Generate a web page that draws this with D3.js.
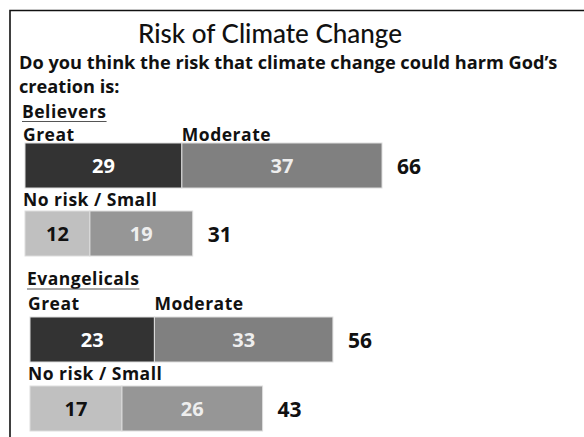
<!DOCTYPE html>
<html><head><meta charset="utf-8">
<script src="https://cdn.jsdelivr.net/npm/d3@7"></script>
<style>
body{margin:0;background:#fff;}
text{font-family:"Open Sans",Lato,sans-serif;}
</style></head>
<body><svg id="c" width="584" height="437"></svg>
<script>
const groups = ["Believers", "Evangelicals"];
const topLabels = ["Great", "Moderate"];
const bottomLabel = "No risk / Small";
const great = [29, 23];
const moderate = [37, 33];
const noRisk = [12, 17];
const small = [19, 26];
const topTotals = [66, 56];
const bottomTotals = [31, 43];

const svg = d3.select("#c");
// frame
svg.append("path").attr("d","M10,437 V10.5 H584").attr("fill","none").attr("stroke","#111").attr("stroke-width",1.6);

svg.append("text").attr("x",270).attr("y",43).attr("text-anchor","middle")
  .style("font-family","Lato, sans-serif")
  .attr("font-size",26).attr("font-weight",500).attr("fill","#111").text("Risk of Climate Change");
svg.append("text").attr("x",19).attr("y",68.5).attr("font-size",18.2).attr("font-weight",700).attr("fill","#111")
  .text("Do you think the risk that climate change could harm God\u2019s");
svg.append("text").attr("x",19).attr("y",93).attr("font-size",18.2).attr("font-weight",700).attr("fill","#111")
  .text("creation is:");

const x = d3.scaleLinear().domain([0, 66]).range([0, 357]);
const layout = [
  {x0:25, head:117.5, topLab:141, bar1:143, botLab:206, bar2:211},
  {x0:30, head:285, topLab:309.5, bar1:317, botLab:380, bar2:386}
];
const barH = 45;
const lab = 17.5, ls = 0.5;
const colGreat="#333333", colMod="#808080", colNo="#c0c0c0", colSmall="#969696";

groups.forEach((g,i)=>{
  const L = layout[i];
  const gg = svg.append("g").attr("transform",`translate(${L.x0},0)`);
  const ht = gg.append("text").attr("x",-3).attr("y",L.head).attr("font-size",lab).attr("letter-spacing",ls).attr("font-weight",700).attr("fill","#111").text(g);
  const w = ht.node().getComputedTextLength();
  gg.append("line").attr("x1",-3).attr("x2",-3+w).attr("y1",L.head+4).attr("y2",L.head+4).attr("stroke","#555").attr("stroke-width",1.2);
  // top row
  gg.append("text").attr("x",-2).attr("y",L.topLab).attr("font-size",lab).attr("letter-spacing",ls).attr("font-weight",700).attr("fill","#111").text(topLabels[0]);
  gg.append("text").attr("x",x(great[i])).attr("y",L.topLab).attr("font-size",lab).attr("letter-spacing",ls).attr("font-weight",700).attr("fill","#111").text(topLabels[1]);
  const seg1 = [{v0:0,v1:great[i],c:colGreat,t:great[i],tc:"#fff"},{v0:great[i],v1:great[i]+moderate[i],c:colMod,t:moderate[i],tc:"#eee"}];
  const seg2 = [{v0:0,v1:noRisk[i],c:colNo,t:noRisk[i],tc:"#111"},{v0:noRisk[i],v1:noRisk[i]+small[i],c:colSmall,t:small[i],tc:"#eee"}];
  [[seg1,L.bar1,topTotals[i]],[seg2,L.bar2,bottomTotals[i]]].forEach(([segs,y,tot])=>{
    gg.selectAll(null).data(segs).enter().append("rect")
      .attr("x",d=>x(d.v0)).attr("y",y).attr("width",d=>x(d.v1)-x(d.v0)).attr("height",barH)
      .attr("fill",d=>d.c).attr("stroke","#ddd").attr("stroke-width",1);
    gg.selectAll(null).data(segs).enter().append("text")
      .attr("x",d=>(x(d.v0)+x(d.v1))/2).attr("y",y+barH/2+7).attr("text-anchor","middle")
      .attr("font-size",20).attr("font-weight",700).attr("fill",d=>d.tc).text(d=>d.t);
    gg.append("text").attr("x",x(tot)+15).attr("y",y+barH/2+8).attr("font-size",21).attr("font-weight",700).attr("fill","#111").text(tot);
  });
  gg.append("text").attr("x",-2).attr("y",L.botLab).attr("font-size",lab).attr("letter-spacing",ls).attr("font-weight",700).attr("fill","#111").text(bottomLabel);
});
</script></body></html>
